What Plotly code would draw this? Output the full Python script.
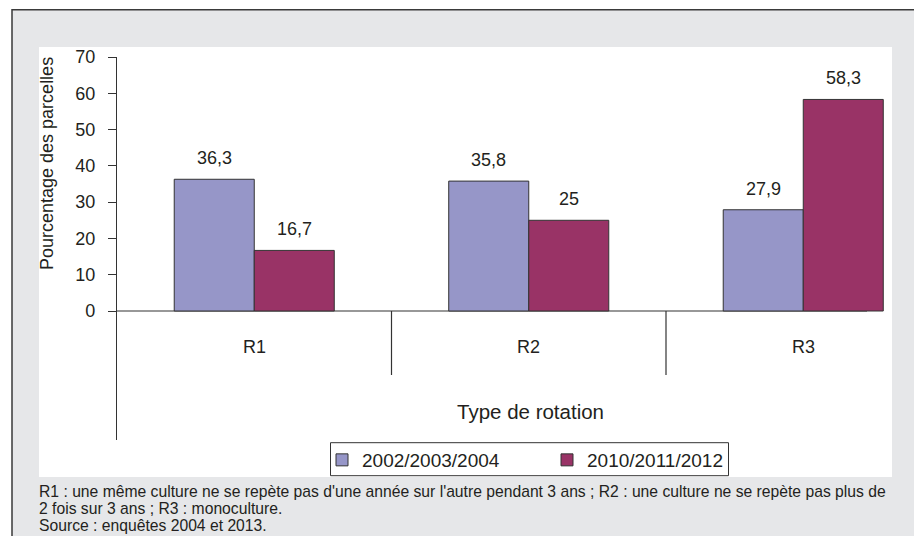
import plotly.graph_objects as go

categories = ["R1", "R2", "R3"]
series_names = ["2002/2003/2004", "2010/2011/2012"]
values_2002 = [36.3, 35.8, 27.9]
values_2010 = [16.7, 25.0, 58.3]
label_2002 = ["36,3", "35,8", "27,9"]
label_2010 = ["16,7", "25", "58,3"]
y_ticks = [0, 10, 20, 30, 40, 50, 60, 70]
x_title = "Type de rotation"
y_title = "Pourcentage des parcelles"
notes = [
    "R1 : une même culture ne se repète pas d'une année sur l'autre pendant 3 ans ; R2 : une culture ne se repète pas plus de",
    "2 fois sur 3 ans ; R3 : monoculture.",
    "Source : enquêtes 2004 et 2013.",
]

# page body adds an 8px offset; all reference pixel positions are shifted by OFF
OFF = 8
W, H = 922 - OFF, 536 - OFF
L, R, T, B = 117 - OFF, W, 57 - OFF, 440 - OFF
PW, PH = R - L, B - T
FONT = "Liberation Sans, Arial, sans-serif"
TXT = "#231f20"
C1, C2 = "#9696c8", "#993366"
EDGE = "#333333"

cat_w = 274.5
y_min, y_max = -35.55, 70


def px_x(px):
    return (px - OFF - L) / PW


def px_y(py):
    return (B - (py - OFF)) / PH


def data_x(px):
    return -0.5 + (px - OFF - L) / cat_w


def data_y(py):
    return y_min + (B - (py - OFF)) / PH * (y_max - y_min)


fig = go.Figure()
fig.add_trace(go.Bar(x=categories, y=values_2002, name=series_names[0],
                     marker=dict(color=C1, line=dict(color=EDGE, width=1))))
fig.add_trace(go.Bar(x=categories, y=values_2010, name=series_names[1],
                     marker=dict(color=C2, line=dict(color=EDGE, width=1))))

ann = []
for i, c in enumerate(categories):
    ann.append(dict(x=c, y=values_2002[i], text=label_2002[i], showarrow=False,
                    xshift=-40, yshift=9, yanchor="bottom",
                    font=dict(size=18, color=TXT, family=FONT)))
    ann.append(dict(x=c, y=values_2010[i], text=label_2010[i], showarrow=False,
                    xshift=40, yshift=9, yanchor="bottom",
                    font=dict(size=18, color=TXT, family=FONT)))
    ann.append(dict(x=c, y=0, text=c, showarrow=False, yshift=-36, yanchor="middle",
                    font=dict(size=18, color=TXT, family=FONT)))

ann.append(dict(xref="paper", yref="paper", x=px_x(530), y=px_y(411), text=x_title,
                showarrow=False, xanchor="center", yanchor="middle",
                font=dict(size=20.5, color=TXT, family=FONT)))
ann.append(dict(xref="paper", yref="paper", x=px_x(47), y=px_y(164), text=y_title,
                showarrow=False, textangle=-90, xanchor="center", yanchor="middle",
                font=dict(size=18, color=TXT, family=FONT)))
for k, line in enumerate(notes):
    ann.append(dict(xref="paper", yref="paper", x=px_x(37), y=px_y(491 + 17 * k), text=line,
                    showarrow=False, xanchor="left", yanchor="middle",
                    font=dict(size=15.7, color=TXT, family=FONT)))

shapes = [
    dict(type="rect", xref="paper", yref="paper", x0=px_x(12), x1=px_x(918),
         y0=px_y(9.7), y1=px_y(545), fillcolor="#e6e7e9",
         line=dict(color="#3a3a3a", width=1.5), layer="below"),
    dict(type="rect", xref="paper", yref="paper", x0=px_x(39), x1=px_x(892),
         y0=px_y(47), y1=px_y(477), fillcolor="white", line=dict(width=0), layer="below"),
    dict(type="rect", xref="paper", yref="paper", x0=px_x(330.5), x1=px_x(728.5),
         y0=px_y(442.7), y1=px_y(475.7), fillcolor="white",
         line=dict(color=EDGE, width=1), layer="below"),
    dict(type="line", xref="x", yref="y", x0=-0.5, x1=data_x(867), y0=0, y1=0,
         line=dict(color=EDGE, width=1.2), layer="below"),
    dict(type="line", xref="x", yref="y", x0=0.5, x1=0.5, y0=0, y1=data_y(375),
         line=dict(color=EDGE, width=1.2)),
    dict(type="line", xref="x", yref="y", x0=1.5, x1=1.5, y0=0, y1=data_y(375),
         line=dict(color=EDGE, width=1.2)),
]

fig.update_layout(
    width=W, height=H,
    margin=dict(l=L, r=W - R, t=T, b=H - B, autoexpand=False),
    paper_bgcolor="white", plot_bgcolor="rgba(0,0,0,0)",
    barmode="group", bargap=0.417, bargroupgap=0,
    showlegend=True,
    legend=dict(orientation="h", x=px_x(322), y=px_y(460), xanchor="left", yanchor="middle",
                bgcolor="rgba(0,0,0,0)", borderwidth=0,
                font=dict(size=19, color=TXT, family=FONT),
                entrywidth=180, entrywidthmode="pixels", itemwidth=30),
    annotations=ann, shapes=shapes,
    font=dict(family=FONT, color=TXT),
)
fig.update_xaxes(range=[-0.5, -0.5 + PW / cat_w], showticklabels=False, showline=False,
                 showgrid=False, zeroline=False, ticks="", categoryorder="array",
                 categoryarray=categories)
fig.update_yaxes(range=[y_min, y_max], tickvals=y_ticks, ticks="outside", ticklen=8,
                 tickcolor=EDGE, showline=True, linecolor=EDGE, linewidth=1.2,
                 showgrid=False, zeroline=False, ticklabelstandoff=9,
                 tickfont=dict(size=18, color=TXT, family=FONT))

fig.write_html("out.html")
